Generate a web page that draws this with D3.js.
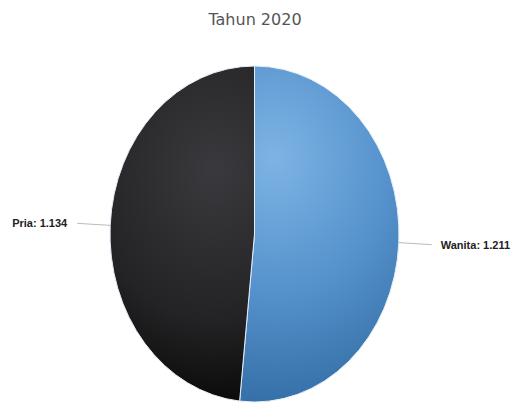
<!DOCTYPE html>
<html>
<head>
<meta charset="utf-8">
<script src="https://cdn.jsdelivr.net/npm/d3@7"></script>
<style>
  html, body { margin: 0; padding: 0; background: #fff; }
  svg { display: block; }
</style>
</head>
<body>
<svg id="chart" width="514" height="403"></svg>
<script>
'use strict';

const TITLE = 'Tahun 2020';
const CATEGORIES = ['Wanita', 'Pria'];
const VALUES = [1211, 1134];
const VALUE_LABELS = ['1.211', '1.134'];

window.addEventListener('DOMContentLoaded', () => {
    const svg = d3.select('#chart');

    const CX = 254.5;
    const CY = 234;
    const RX = 144.5;
    const RY = 168;
    const SY = RY / RX;

    // title
    svg.append('text')
        .attr('x', 255)
        .attr('y', 25)
        .attr('text-anchor', 'middle')
        .attr('font-family', 'DejaVu Sans, sans-serif')
        .attr('font-size', 16)
        .attr('fill', '#555')
        .text(TITLE);

    const defs = svg.append('defs');

    // gradients for the slices
    const blue = defs.append('radialGradient')
        .attr('id', 'gBlue')
        .attr('gradientUnits', 'userSpaceOnUse')
        .attr('cx', 20).attr('cy', -65).attr('r', 210);
    blue.append('stop').attr('offset', '0%').attr('stop-color', '#7db4e4');
    blue.append('stop').attr('offset', '55%').attr('stop-color', '#5591cc');
    blue.append('stop').attr('offset', '100%').attr('stop-color', '#3670a8');

    const dark = defs.append('radialGradient')
        .attr('id', 'gDark')
        .attr('gradientUnits', 'userSpaceOnUse')
        .attr('cx', -40).attr('cy', -55).attr('r', 215);
    dark.append('stop').attr('offset', '0%').attr('stop-color', '#3a3a3e');
    dark.append('stop').attr('offset', '60%').attr('stop-color', '#232325');
    dark.append('stop').attr('offset', '100%').attr('stop-color', '#060606');

    const FILLS = ['url(#gBlue)', 'url(#gDark)'];

    const data = CATEGORIES.map((c, i) => ({ name: c, value: VALUES[i], label: VALUE_LABELS[i] }));

    const pie = d3.pie().sort(null).value((d) => d.value);
    const arcs = pie(data);

    const arc = d3.arc().innerRadius(0).outerRadius(RX);

    // pie drawn as circle, then stretched vertically
    const g = svg.append('g')
        .attr('transform', `translate(${CX},${CY}) scale(1,${SY})`);

    g.selectAll('path.slice')
        .data(arcs)
        .join('path')
        .attr('class', 'slice')
        .attr('d', arc)
        .attr('fill', (d, i) => FILLS[i])
        .attr('stroke', '#e4eef8')
        .attr('stroke-width', 1)
        .style('vector-effect', 'non-scaling-stroke');

    // leader lines and labels
    const LINE_LEN = 33;
    arcs.forEach((d) => {
        const mid = (d.startAngle + d.endAngle) / 2;
        const sx = Math.sin(mid);
        const sy = -Math.cos(mid);
        const x1 = CX + RX * sx;
        const y1 = CY + RX * sy * SY;
        const x2 = CX + (RX + LINE_LEN) * sx;
        const y2 = CY + (RX + LINE_LEN) * sy * SY;
        const right = sx > 0;

        svg.append('line')
            .attr('x1', x1).attr('y1', y1)
            .attr('x2', x2).attr('y2', y2)
            .attr('stroke', '#bbb')
            .attr('stroke-width', 1);

        svg.append('text')
            .attr('x', right ? x2 + 9 : x2 - 10)
            .attr('y', y2 + 4)
            .attr('text-anchor', right ? 'start' : 'end')
            .attr('font-family', 'Liberation Sans, Arial, sans-serif')
            .attr('font-weight', 'bold')
            .attr('font-size', 11)
            .attr('fill', '#222')
            .text(`${d.data.name}: ${d.data.label}`);
    });
});
</script>
</body>
</html>
